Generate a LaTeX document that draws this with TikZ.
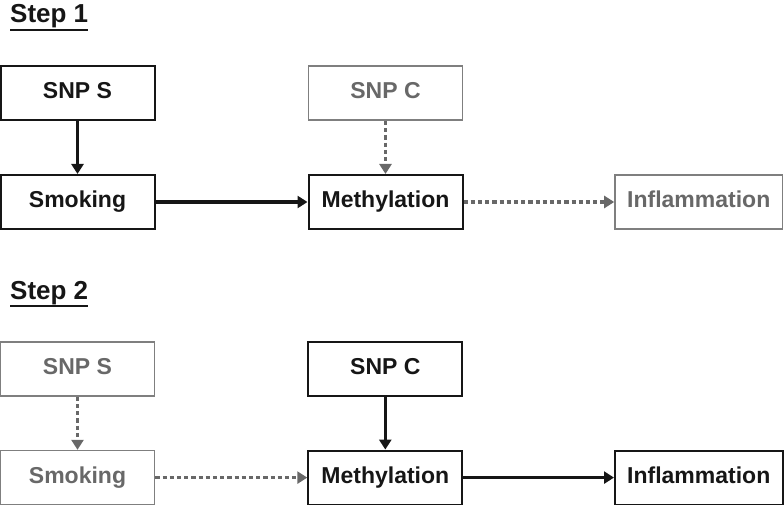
\documentclass[tikz,border=0pt]{standalone}
\usepackage{fontspec}
\setmainfont{Liberation Sans}
\usetikzlibrary{arrows.meta, positioning}
\definecolor{ink}{HTML}{161616}
\definecolor{faded}{HTML}{686868}
\tikzstyle{strong} = [
    rectangle,
    minimum width=154pt,
    minimum height=54pt,
    inner sep=0pt,
    text height=16.5pt,
    text depth=5pt,
    text centered,
    draw=ink,
    text=ink,
    line width=2pt,
    font=\fontsize{23}{26}\selectfont\bfseries
]
\tikzstyle{weak} = [
    strong,
    draw=faded!85,
    text=faded,
    line width=1.6pt
]
\tikzstyle{link} = [
    line width=3.5pt,
    draw=ink,
    -{Triangle[length=10pt,width=12pt]}
]
\tikzstyle{hint} = [
    line width=3.5pt,
    draw=faded,
    dash pattern=on 4.2pt off 3pt,
    -{Triangle[length=10pt,width=12pt]}
]
\tikzstyle{title} = [
    anchor=base west,
    inner sep=0pt,
    text=ink,
    font=\fontsize{26}{29}\selectfont\bfseries
]

\begin{document}
\begin{tikzpicture}[node distance=53pt and 152pt]
\useasboundingbox (0pt,0pt) rectangle (784pt,-505pt);

% step 1
\node (title1) [title] at (10pt,-23pt) {Step 1};
\draw[ink, line width=2pt] ([yshift=-7pt]title1.base west) -- ([yshift=-7pt]title1.base east);

\node (snps1)    [strong] at (77.5pt,-93pt) {SNP S};
\node (smoke1)   [strong, below=of snps1] {Smoking};
\node (meth1)    [strong, right=of smoke1] {Methylation};
\node (snpc1)    [weak, above=of meth1] {SNP C};
\node (inflam1)  [weak, minimum width=167.5pt, right=150.7pt of meth1] {Inflammation};

\draw[link] (snps1) -- (smoke1);
\draw[link] (smoke1) -- (meth1);
\draw[hint] (snpc1) -- (meth1);
\draw[hint] (meth1) -- (inflam1);

% step 2
\node (title2) [title] at (10pt,-299pt) {Step 2};
\draw[ink, line width=2pt] ([yshift=-7pt]title2.base west) -- ([yshift=-7pt]title2.base east);

\node (snps2)    [weak] at (77.5pt,-369pt) {SNP S};
\node (smoke2)   [weak, below=of snps2] {Smoking};
\node (meth2)    [strong, right=of smoke2] {Methylation};
\node (snpc2)    [strong, above=of meth2] {SNP C};
\node (inflam2)  [strong, minimum width=167.5pt, right=150.7pt of meth2] {Inflammation};

\draw[hint] (snps2) -- (smoke2);
\draw[hint] (smoke2) -- (meth2);
\draw[link] (snpc2) -- (meth2);
\draw[link] (meth2) -- (inflam2);

\end{tikzpicture}
\end{document}
